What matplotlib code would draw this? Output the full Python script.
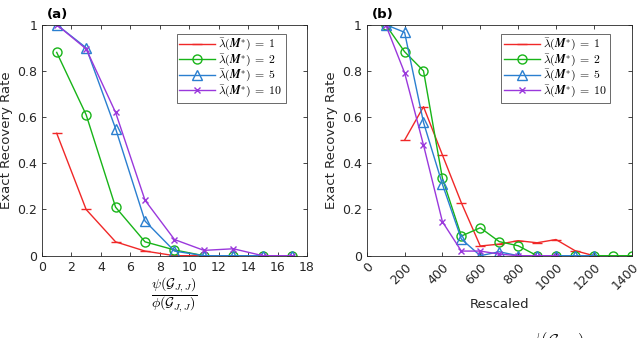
import numpy as np
import matplotlib.pyplot as plt

plt.rcParams['mathtext.fontset'] = 'cm'
plt.rcParams['font.family'] = ['DejaVu Sans']

# panel (a)
xa = [1, 3, 5, 7, 9, 11, 13, 15, 17]
a_red = [0.53, 0.20, 0.06, 0.02, 0.0, 0.0, 0.0, 0.0, 0.0]
a_green = [0.88, 0.61, 0.21, 0.06, 0.025, 0.0, 0.0, 0.0, 0.0]
a_blue = [1.0, 0.90, 0.55, 0.15, 0.02, 0.0, 0.0, 0.0, 0.0]
a_purple = [1.0, 0.895, 0.62, 0.24, 0.07, 0.023, 0.03, 0.0, 0.0]

# panel (b)
xb_red = [200, 300, 400, 500, 600, 700, 800, 900, 1000, 1100, 1200]
b_red = [0.50, 0.645, 0.436, 0.229, 0.042, 0.05, 0.065, 0.056, 0.07, 0.022, 0.0]
xb_green = [100, 200, 300, 400, 500, 600, 700, 800, 900, 1000, 1100, 1200, 1300, 1400]
b_green = [1.0, 0.883, 0.80, 0.335, 0.085, 0.121, 0.061, 0.043, 0.0, 0.0, 0.0, 0.0, 0.0, 0.0]
xb_blue = [100, 200, 300, 400, 500, 600, 700, 800, 900, 1000, 1100, 1200]
b_blue = [1.0, 0.967, 0.577, 0.309, 0.072, 0.0, 0.017, 0.0, 0.0, 0.0, 0.0, 0.0]
xb_purple = [100, 200, 300, 400, 500, 600, 700, 800, 900, 1000]
b_purple = [1.0, 0.792, 0.479, 0.147, 0.02, 0.02, 0.007, 0.0, 0.0, 0.0]

labels = [r'$\bar{\lambda}(\boldsymbol{M}^{*})\; = \;1$',
          r'$\bar{\lambda}(\boldsymbol{M}^{*})\; = \;2$',
          r'$\bar{\lambda}(\boldsymbol{M}^{*})\; = \;5$',
          r'$\bar{\lambda}(\boldsymbol{M}^{*})\; = \;10$']
colors = ['#f02828', '#18b418', '#2a7fd0', '#9a38dc']
markers = ['_', 'o', '^', 'x']
msizes = [7, 6.5, 7.5, 4]

fig = plt.figure(figsize=(6.4, 3.38), dpi=100)
ax1 = fig.add_axes([0.0656, 0.2435, 0.414, 0.6835])
ax2 = fig.add_axes([0.573, 0.2435, 0.414, 0.6835])

series_a = [(xa, a_red), (xa, a_green), (xa, a_blue), (xa, a_purple)]
series_b = [(xb_red, b_red), (xb_green, b_green), (xb_blue, b_blue), (xb_purple, b_purple)]

for ax, series in [(ax1, series_a), (ax2, series_b)]:
    for (x, y), c, m, ms, lab in zip(series, colors, markers, msizes, labels):
        ax.plot(x, y, color=c, marker=m, markersize=ms, markerfacecolor='none',
                markeredgewidth=1.0, linewidth=1.0, label=lab)
    ax.set_ylim(0, 1)
    ax.set_yticks([0, 0.2, 0.4, 0.6, 0.8, 1])
    ax.set_yticklabels(['0', '0.2', '0.4', '0.6', '0.8', '1'])
    ax.tick_params(direction='in', top=True, right=True, labelsize=9,
                   colors='#262626', length=3, width=0.6)
    for s in ax.spines.values():
        s.set_color('#262626')
        s.set_linewidth(0.6)
    ax.set_ylabel('Exact Recovery Rate', fontsize=9.5, color='#262626', labelpad=3)
    leg = ax.legend(loc='upper right', fontsize=8.5, frameon=True, fancybox=False,
                    edgecolor='#262626', borderpad=0.25, handlelength=3.0,
                    handletextpad=0.3, labelspacing=-0.05, borderaxespad=0,
                    bbox_to_anchor=(0.92, 0.96))
    leg.get_frame().set_linewidth(0.6)

ax1.set_xlim(0, 18)
ax1.set_xticks(np.arange(0, 19, 2))
ax1.set_xlabel(r'$\dfrac{\psi(\mathcal{G}_{J,J})}{\phi(\mathcal{G}_{J,J})}$', fontsize=10,
               labelpad=1)
ax1.text(0.02, 1.03, '(a)', transform=ax1.transAxes, fontsize=9.5, fontweight='bold')

ax2.set_xlim(0, 1400)
ax2.set_xticks(np.arange(0, 1401, 200))
plt.setp(ax2.get_xticklabels(), rotation=45, ha='right', va='top', rotation_mode='anchor')
ax2.set_xlabel('Rescaled', fontsize=9.5, color='#262626', labelpad=4)
ax2.text(0.02, 1.03, '(b)', transform=ax2.transAxes, fontsize=9.5, fontweight='bold')

# clipped caption fragment at the bottom edge
fig.text(0.87, -0.012, r'$\psi(\mathcal{G}_{J,J})$', fontsize=12, ha='center', va='center')

fig.savefig('out.png', dpi=100)
